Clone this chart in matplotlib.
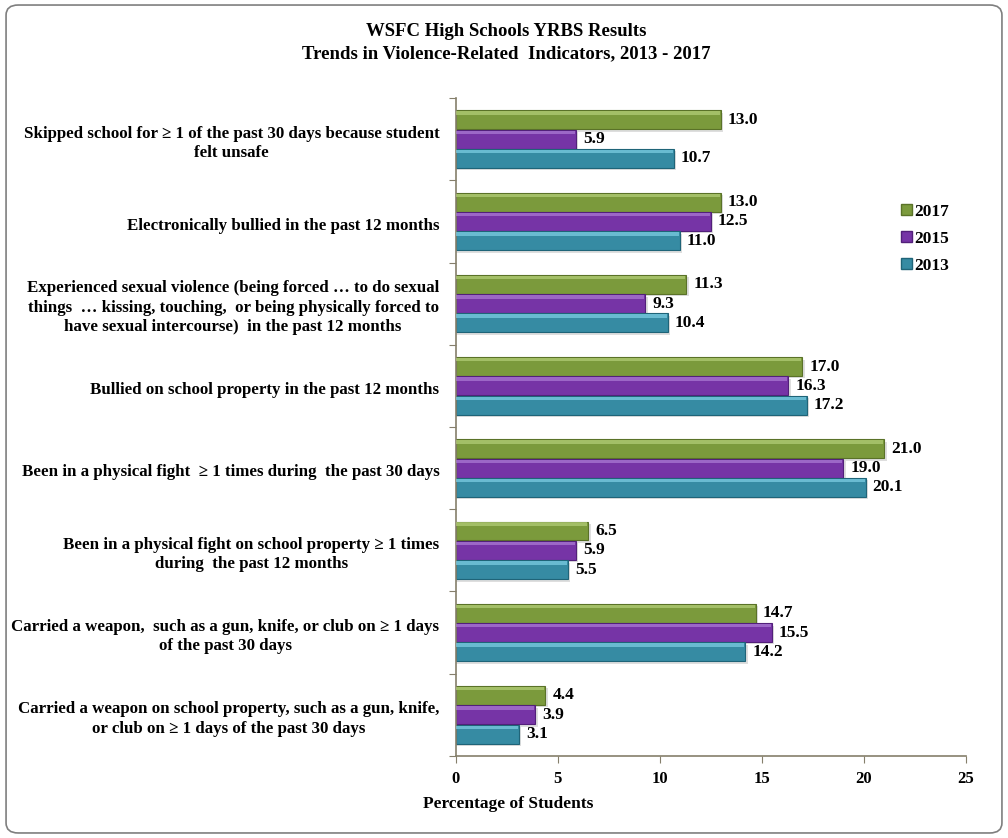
import matplotlib
matplotlib.use("Agg")
import matplotlib.pyplot as plt
from matplotlib.patches import FancyBboxPatch, Patch
import numpy as np

categories = [
    "Skipped school for \u2265 1 of the past 30 days because student\nfelt unsafe",
    "Electronically bullied in the past 12 months",
    "Experienced sexual violence (being forced \u2026 to do sexual\nthings  \u2026 kissing, touching,  or being physically forced to\nhave sexual intercourse)  in the past 12 months",
    "Bullied on school property in the past 12 months",
    "Been in a physical fight  \u2265 1 times during  the past 30 days",
    "Been in a physical fight on school property \u2265 1 times\nduring  the past 12 months",
    "Carried a weapon,  such as a gun, knife, or club on \u2265 1 days\nof the past 30 days",
    "Carried a weapon on school property, such as a gun, knife,\nor club on \u2265 1 days of the past 30 days",
]
years = ["2017", "2015", "2013"]
vals_2017 = [13.0, 13.0, 11.3, 17.0, 21.0, 6.5, 14.7, 4.4]
vals_2015 = [5.9, 12.5, 9.3, 16.3, 19.0, 5.9, 15.5, 3.9]
vals_2013 = [10.7, 11.0, 10.4, 17.2, 20.1, 5.5, 14.2, 3.1]

colors = ["#7b9a3c", "#7634a6", "#368ba3"]
edges = ["#5a7228", "#52207a", "#1f6478"]
lights = ["#b5cf7a", "#ad7ed6", "#7fd0e6"]

plt.rcParams["font.family"] = ["Liberation Serif", "DejaVu Serif"]
plt.rcParams["font.weight"] = "bold"

fig = plt.figure(figsize=(10.08, 8.38), dpi=100)
ax = fig.add_axes([0.452, 0.098, 0.506, 0.785])

y = np.arange(len(categories))
h = 0.23
offsets = [-0.235, 0.0, 0.235]
series = [vals_2017, vals_2015, vals_2013]

for vals, off, c, ec, lc in zip(series, offsets, colors, edges, lights):
    pos = y + off
    # soft shadow
    ax.barh(pos + 0.03, np.array(vals) + 0.12, height=h, color="#c8c8c8",
            alpha=0.6, zorder=1)
    ax.barh(pos, vals, height=h, color=c, edgecolor=ec, linewidth=0.8, zorder=2)
    # highlight strip on top of each bar
    ax.barh(pos - h * 0.36, np.array(vals) - 0.05, height=h * 0.18, color=lc,
            alpha=0.7, linewidth=0, zorder=3)
    for p, v in zip(pos, vals):
        ax.annotate(f"{v:.1f}", (v, p), xytext=(5, 0), textcoords="offset points",
                    va="center", ha="left", fontsize=12.5, fontweight="bold", zorder=4)

ax.set_xlim(0, 25)
ax.set_ylim(len(categories) - 0.5, -0.5)
ax.set_xticks([0, 5, 10, 15, 20, 25])
ax.set_yticks(np.arange(len(categories) + 1) - 0.5)
ax.set_yticklabels([])
ax.tick_params(axis="x", labelsize=12, length=5, color="#857f6b", pad=6)
ax.tick_params(axis="y", length=5, color="#857f6b")
for lab in ax.get_xticklabels():
    lab.set_fontweight("bold")

for s in ["top", "right"]:
    ax.spines[s].set_visible(False)
for s in ["left", "bottom"]:
    ax.spines[s].set_color("#857f6b")
    ax.spines[s].set_linewidth(1.2)

for i, cat in enumerate(categories):
    ax.text(-0.032, i + 0.05, cat, transform=ax.get_yaxis_transform(), ha="right",
            va="center", multialignment="center", fontsize=12.2, fontweight="bold",
            linespacing=1.28)

handles = [Patch(facecolor=c, edgecolor=ec) for c, ec in zip(colors, edges)]
fig.legend(handles, years, loc="upper left", bbox_to_anchor=(0.882, 0.771),
           frameon=False, prop={"weight": "bold", "size": 12.5},
           handlelength=0.6, handleheight=0.6, handletextpad=0.15,
           labelspacing=0.62, borderpad=0.2)

fig.text(0.502, 0.962, "WSFC High Schools YRBS Results", ha="center", va="center",
         fontsize=13.5, fontweight="bold")
fig.text(0.502, 0.936, "Trends in Violence-Related  Indicators, 2013 - 2017",
         ha="center", va="center", fontsize=13.5, fontweight="bold")
fig.text(0.504, 0.041, "Percentage of Students", ha="center", va="center",
         fontsize=12.5, fontweight="bold")

border = FancyBboxPatch((0.006, 0.006), 0.988, 0.988,
                        boxstyle="round,pad=0,rounding_size=0.012",
                        transform=fig.transFigure, fill=False,
                        edgecolor="#7f7f7f", linewidth=1.2)
fig.patches.append(border)

fig.savefig("out.png", dpi=100, facecolor="white")
